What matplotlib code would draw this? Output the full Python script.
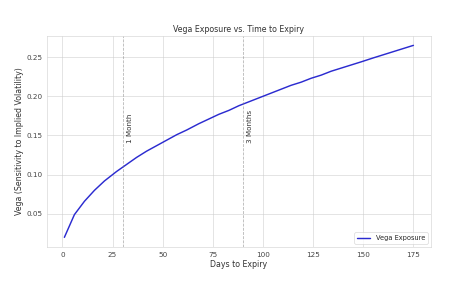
import matplotlib
matplotlib.use("Agg")
import matplotlib.pyplot as plt
import seaborn as sns

# Days to expiry and vega values
days = [1, 6, 11, 16, 21, 27, 32, 37, 42, 47, 52, 57, 62, 68, 73, 78, 83, 88,
        93, 98, 103, 108, 114, 119, 124, 129, 134, 139, 144, 149, 155, 160,
        165, 170, 175]
vega = [0.020, 0.049, 0.066, 0.080, 0.092, 0.104, 0.113, 0.122, 0.130, 0.137,
        0.144, 0.151, 0.157, 0.165, 0.171, 0.177, 0.182, 0.188, 0.193, 0.198,
        0.203, 0.208, 0.214, 0.218, 0.223, 0.227, 0.232, 0.236, 0.240, 0.244,
        0.249, 0.253, 0.257, 0.261, 0.265]

markers = [30, 90]
marker_labels = ["1 Month", "3 Months"]

sns.set_style("whitegrid")
plt.rcParams["font.family"] = ["DejaVu Sans"]

fig, ax = plt.subplots(figsize=(10, 6.205), dpi=47.4)
fig.subplots_adjust(left=0.099, right=0.909, top=0.878, bottom=0.16)

ax.plot(days, vega, color="#2b2bd0", linewidth=2.2, label="Vega Exposure")

for d, lab in zip(markers, marker_labels):
    ax.axvline(d, color="gray", linestyle="--", alpha=0.6, linewidth=1.2)
    ax.text(d + 2, 0.14, lab, rotation=90, va="bottom", ha="left",
            fontsize=11, color="#333333")

ax.set_title("Vega Exposure vs. Time to Expiry", fontsize=12, color="#333333")
ax.set_xlabel("Days to Expiry", fontsize=12, color="#333333")
ax.set_ylabel("Vega (Sensitivity to Implied Volatility)", fontsize=12,
              color="#333333")
ax.tick_params(labelsize=11, colors="#444444")
ax.legend(loc="lower right", fontsize=10)

fig.savefig("out.png", dpi=47.4)
